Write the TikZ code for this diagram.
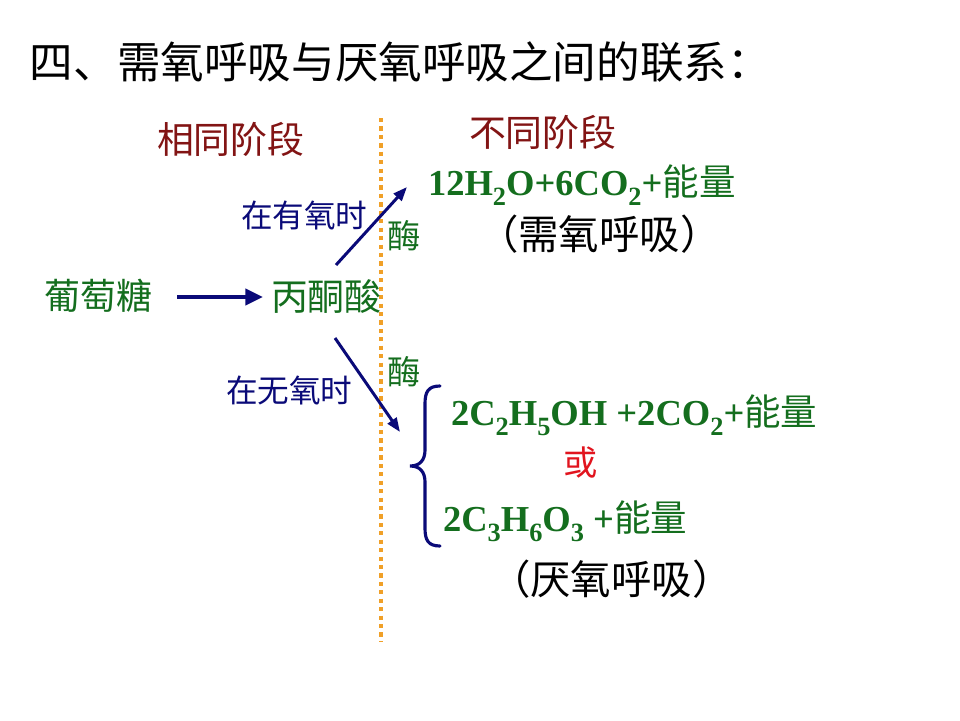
\documentclass[tikz,border=0pt]{standalone}
\usepackage{fontspec}
\setmainfont{Liberation Serif}
\newfontfamily\cjk{Noto Sans CJK SC}
\usetikzlibrary{arrows.meta}
\definecolor{tgreen}{RGB}{20,110,30}
\definecolor{tred}{RGB}{130,20,20}
\definecolor{tnavy}{RGB}{10,10,120}
\definecolor{torange}{RGB}{240,160,40}
\definecolor{bred}{RGB}{225,20,30}
\newcommand{\fs}[1]{\fontsize{#1}{#1}\selectfont}
\newcommand{\chsub}[1]{\raisebox{-0.3em}{\fs{15pt}#1}}
\tikzset{
  txt/.style={inner sep=0pt, outer sep=0pt, anchor=west},
  chem/.style={inner sep=0pt, outer sep=0pt, anchor=base west, text=tgreen},
  flow/.style={draw=tnavy, line width=1.7pt, -{Triangle[length=8pt,width=6pt]}},
}
\begin{document}
\begin{tikzpicture}[x=0.02cm,y=-0.02cm]
\useasboundingbox (0,0) rectangle (960,720);
% title
\node[txt] (title) at (30,62) {\cjk\fs{24.8pt}四、需氧呼吸与厌氧呼吸之间的联系：};
% headings
\node[txt, text=tred] (same) at (157,139) {\cjk\fs{21pt}相同阶段};
\node[txt, text=tred] (diff) at (469,132) {\cjk\fs{21pt}不同阶段};
% dotted divider
\coordinate (dtop) at (381,118);
\coordinate (dbot) at (381,642);
\draw[torange, line width=2.4pt, dash pattern=on 2.4pt off 2.4pt] (dtop) -- (dbot);
% glucose -> pyruvate
\node[txt, text=tgreen] (glu) at (44,296) {\cjk\fs{20.5pt}葡萄糖};
\node[txt, text=tgreen] (pyr) at (271,297) {\cjk\fs{21pt}丙酮酸};
\coordinate (ha) at (177,297);
\coordinate (hb) at (263,297);
\draw[draw=tnavy, line width=2.8pt, -{Triangle[length=10pt,width=9pt]}] (ha) -- (hb);
% aerobic branch
\coordinate (up0) at (336,265);
\coordinate (up1) at (407,187);
\draw[flow] (up0) -- (up1);
\node[txt, text=tnavy] (aer) at (241,215) {\cjk\fs{18pt}在有氧时};
\node[txt, text=tgreen] (enz1) at (387,236) {\cjk\fs{19pt}酶};
\node[chem] (aprod) at (428,195) {\fs{20.8pt}\bfseries 12H\chsub{2}O+6CO\chsub{2}+{\cjk\mdseries 能量}};
\node[txt] (alab) at (478,234) {\cjk\fs{23pt}（需氧呼吸）};
% anaerobic branch
\coordinate (dn0) at (335,338);
\coordinate (dn1) at (400,432);
\draw[flow] (dn0) -- (dn1);
\node[txt, text=tnavy] (anaer) at (226,390) {\cjk\fs{18pt}在无氧时};
\node[txt, text=tgreen] (enz2) at (387,372) {\cjk\fs{19pt}酶};
% brace
\coordinate (bt) at (440,386);
\coordinate (bm) at (410,466);
\coordinate (bb) at (440,546);
\draw[tnavy, line width=1.8pt, line cap=round]
  (bt) .. controls (428,386) and (425,392) .. (425,404) -- (425,450)
  .. controls (425,460) and (420,466) .. (bm)
  .. controls (420,466) and (425,472) .. (425,482) -- (425,528)
  .. controls (425,540) and (428,546) .. (bb);
\node[chem] (ethanol) at (451,425) {\fs{20.8pt}\bfseries 2C\chsub{2}H\chsub{5}OH +2CO\chsub{2}+{\cjk\mdseries 能量}};
\node[txt, text=bred] (or) at (563,463) {\cjk\fs{19.5pt}或};
\node[chem] (lactic) at (443,531) {\fs{20.8pt}\bfseries 2C\chsub{3}H\chsub{6}O\chsub{3} +{\cjk\mdseries 能量}};
\node[txt] (blab) at (490,579) {\cjk\fs{23pt}（厌氧呼吸）};
\end{tikzpicture}
\end{document}
